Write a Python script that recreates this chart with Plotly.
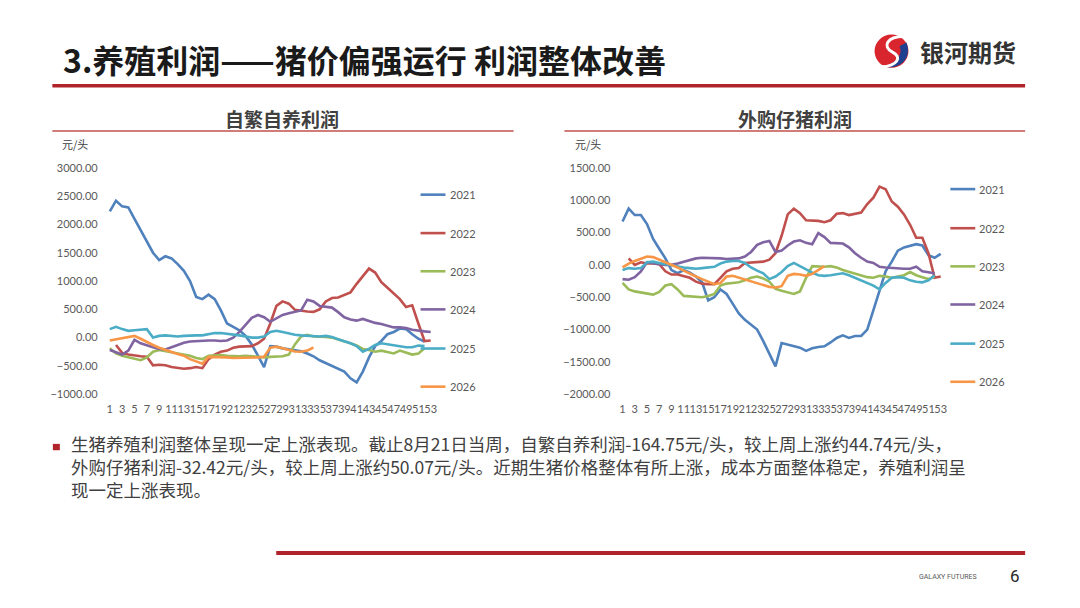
import plotly.graph_objects as go

# the page body keeps its 8px margin, so the figure is drawn 16px smaller
# and every position below is given in window pixels
OFF = 8
W, H = 1080 - 2 * OFF, 608 - 2 * OFF
CJK = "Noto Sans CJK SC, Noto Sans, sans-serif"
NUM = "Lato, Noto Sans, sans-serif"

weeks = list(range(1, 54))
years = ["2021", "2022", "2023", "2024", "2025", "2026"]
colors = ["#4F81BD", "#C0504D", "#9BBB59", "#8064A2", "#4BACC6", "#F79646"]

# 自繁自养利润 (元/头), by week
self_2021 = [2230, 2420, 2320, 2300, 2100, 1900, 1700, 1500, 1370, 1437,
             1400, 1300, 1180, 1000, 720, 680, 760, 680, 480, 250,
             190, 130, 30, -120, -320, -520, -150, -160, -190, -210,
             -220, -240, -280, -330, -400, -450, -500, -550, -600, -720,
             -790, -600, -350, -150, -60, 60, 100, 160, 150, 60,
             -20, -70]
self_2022 = [None, -130, -270, -300, -320, -330, -340, -490, -480, -490,
             -520, -540, -550, -540, -520, -540, -380, -300, -250, -230,
             -180, -160, -160, -150, -100, -20, 250, 560, 640, 600,
             490, 470, 460, 455, 500, 640, 700, 710, 760, 800,
             950, 1080, 1220, 1150, 980, 880, 780, 680, 540, 570,
             250, -60, -50]
self_2023 = [-190, -280, -320, -350, -380, -400, -350, -250, -220, -240,
             -260, -280, -300, -320, -360, -380, -320, -310, -310, -320,
             -330, -330, -320, -330, -340, -350, -340, -340, -330, -300,
             -120, 20, 50, 20, 20, 10, 0, -30, -60, -100,
             -140, -200, -220, -250, -230, -250, -280, -230, -270, -300,
             -280, -190]
self_2024 = [-220, -260, -300, -230, -40, -100, -140, -170, -200, -210,
             -170, -130, -90, -70, -60, -50, -50, -50, -60, -50,
             0, 100, 230, 350, 400, 360, 280, 340, 400, 430,
             450, 480, 670, 640, 560, 540, 530, 450, 360, 320,
             300, 330, 290, 260, 240, 210, 180, 180, 170, 140,
             120, 110, 100]
self_2025 = [150, 190, 150, 120, 130, 140, 150, 0, 30, 40,
             30, 20, 30, 40, 40, 40, 60, 80, 80, 70,
             60, 40, 20, 0, 0, 20, 100, 120, 100, 70,
             50, 40, 30, 20, 20, 30, 10, -30, -60, -100,
             -150, -250, -200, -130, -100, -120, -140, -160, -170, -170,
             -140, -150]
self_2026 = [-50, -30, 0, 20, 30, -20, -80, -130, -180, -220,
             -260, -290, -320, -380, -420, -460, -340, -340, -340, -350,
             -360, -360, -350, -350, -350, -340, -180, -160, -190, -220,
             -245, -250, -230, -175]

# 外购仔猪利润 (元/头), by week
buy_2021 = [670, 870, 770, 770, 630, 400, 250, 100, -80, -130,
            -80, -120, -180, -270, -550, -500, -380, -450, -600, -750,
            -850, -930, -1000, -1180, -1380, -1570, -1210, -1230, -1260, -1280,
            -1330, -1290, -1270, -1260, -1200, -1130, -1090, -1130, -1100, -1100,
            -1000, -700, -400, -100, 50, 220, 270, 300, 320, 300,
            150, 110, 170]
buy_2022 = [None, 100, 0, 40, 20, 20, 10, -100, -150, -150,
            -170, -200, -260, -290, -300, -300, -200, -100, -60, -50,
            30, 40, 50, 50, 80, 180, 450, 780, 870, 800,
            690, 690, 680, 660, 690, 790, 800, 770, 790, 810,
            940, 1040, 1210, 1170, 980, 900, 780, 620, 420, 420,
            180, -200, -180]
buy_2023 = [-280, -380, -410, -430, -440, -460, -420, -320, -300, -380,
            -480, -490, -500, -500, -480, -450, -320, -290, -280, -270,
            -240, -200, -180, -210, -260, -370, -400, -430, -450, -410,
            -200, -20, -30, -30, -20, -40, -80, -110, -130, -160,
            -190, -200, -170, -180, -200, -180, -160, -110, -160, -190,
            -220, -180]
buy_2024 = [-220, -230, -190, -100, 40, 20, 10, 0, 0, 20,
            50, 80, 100, 110, 110, 110, 100, 90, 90, 100,
            130, 200, 310, 350, 370, 200, 220, 300, 360, 380,
            340, 320, 490, 430, 340, 340, 330, 270, 180, 110,
            50, 30, -30, -40, -50, -60, -60, -60, -30, -100,
            -110, -130]
buy_2025 = [-80, -50, -60, -50, 40, 50, 30, 10, -10, -30,
            -40, -50, -60, -50, -40, -30, 20, 50, 60, 60,
            30, -40, -90, -130, -220, -180, -110, -20, 30, -20,
            -80, -120, -160, -170, -160, -150, -130, -160, -200, -240,
            -280, -320, -380, -280, -200, -190, -200, -240, -260, -270,
            -240, -160]
buy_2026 = [-40, 20, 60, 100, 130, 120, 80, 40, 10, -40,
            -90, -140, -180, -220, -260, -300, -280, -180, -170, -200,
            -230, -260, -290, -320, -340, -350, -330, -170, -140, -150,
            -170, -140, -80, -20]

self_series = [self_2021, self_2022, self_2023, self_2024, self_2025, self_2026]
buy_series = [buy_2021, buy_2022, buy_2023, buy_2024, buy_2025, buy_2026]

bullet_lines = [
    "生猪养殖利润整体呈现一定上涨表现。截止8月21日当周，自繁自养利润-164.75元/头，较上周上涨约44.74元/头，",
    "外购仔猪利润-32.42元/头，较上周上涨约50.07元/头。近期生猪价格整体有所上涨，成本方面整体稳定，养殖利润呈",
    "现一定上涨表现。",
]


def px(x):
    return (x - OFF) / W


def py(y):
    return 1 - (y - OFF) / H


def pt(x, y):
    return f"{px(x):.5f},{py(y):.5f}"


fig = go.Figure()

for ix, year in enumerate(years):
    fig.add_trace(go.Scatter(x=weeks[:len(self_series[ix])], y=self_series[ix],
                             mode="lines", name=year, showlegend=False,
                             line=dict(color=colors[ix], width=2.6),
                             xaxis="x", yaxis="y"))
    fig.add_trace(go.Scatter(x=weeks[:len(buy_series[ix])], y=buy_series[ix],
                             mode="lines", name=year, showlegend=False,
                             line=dict(color=colors[ix], width=2.6),
                             xaxis="x2", yaxis="y2"))

ydom = [py(395.7), py(164.3)]
axis_font = dict(family=NUM, size=11, color="#595959")
xcommon = dict(range=[0.5, 53.5], tickmode="array", tickvals=weeks[::2],
               showgrid=False, zeroline=False, showline=False, ticks="",
               tickfont=axis_font, tickangle=0, ticklabelstandoff=7)
ycommon = dict(dtick=500, tickformat=".2f", showgrid=False, zeroline=False,
               showline=False, ticks="", tickfont=axis_font,
               ticklabelstandoff=8)

fig.update_layout(
    width=W, height=H,
    margin=dict(l=0, r=0, t=0, b=0),
    paper_bgcolor="white", plot_bgcolor="white",
    xaxis=dict(domain=[px(107), px(435)], anchor="y", **xcommon),
    yaxis=dict(domain=ydom, range=[-1000, 3000], anchor="x", **ycommon),
    xaxis2=dict(domain=[px(621.2), px(946.4)], anchor="y2", **xcommon),
    yaxis2=dict(domain=ydom, range=[-2000, 1500], anchor="x2", **ycommon),
)

shapes = []
annotations = []

# header
annotations.append(dict(x=px(61), y=py(52.5), xref="paper", yref="paper",
                        xanchor="left", yanchor="middle", showarrow=False,
                        text="<b>3.养殖利润——猪价偏强运行 利润整体改善</b>",
                        font=dict(family=CJK, size=32, color="#1a1a1a")))
shapes.append(dict(type="line", xref="paper", yref="paper",
                   x0=px(52.5), x1=px(1028), y0=py(80.3), y1=py(80.3),
                   line=dict(color="#B0232A", width=3.5)))

# logo
shapes.append(dict(type="circle", xref="paper", yref="paper",
                   x0=px(877), x1=px(911), y0=py(62), y1=py(28),
                   fillcolor="#D9262E", line=dict(width=0)))
shapes.append(dict(type="path", xref="paper", yref="paper",
                   path=f"M{pt(909, 36)} C{pt(915, 52)} {pt(903, 64)} {pt(886, 61)} "
                        f"C{pt(899, 57)} {pt(906, 48)} {pt(902, 40)} Z",
                   fillcolor="#1F3F8F", line=dict(width=0)))
shapes.append(dict(type="path", xref="paper", yref="paper",
                   path=f"M{pt(906, 30)} C{pt(890, 30)} {pt(884, 40)} {pt(895, 46)} "
                        f"C{pt(905, 51)} {pt(900, 60)} {pt(884, 61)}",
                   line=dict(color="white", width=3)))
annotations.append(dict(x=px(921), y=py(45), xref="paper", yref="paper",
                        xanchor="left", yanchor="middle", showarrow=False,
                        text="<b>银河期货</b>",
                        font=dict(family=CJK, size=24, color="#333333")))

# chart titles
for title, cx, x0, x1 in [("自繁自养利润", 283, 52.5, 515), ("外购仔猪利润", 797, 566, 1028)]:
    annotations.append(dict(x=px(cx), y=py(114), xref="paper", yref="paper",
                            xanchor="center", yanchor="middle", showarrow=False,
                            text=f"<b>{title}</b>",
                            font=dict(family=CJK, size=19, color="#404040")))
    shapes.append(dict(type="line", xref="paper", yref="paper",
                       x0=px(x0), x1=px(x1), y0=py(126.7), y1=py(126.7),
                       line=dict(color="#C0504D", width=1.5)))

# unit labels
for ux in [60, 575]:
    annotations.append(dict(x=px(ux), y=py(140), xref="paper", yref="paper",
                            xanchor="left", yanchor="middle", showarrow=False,
                            text="元/头",
                            font=dict(family=CJK, size=11, color="#404040")))

# legends drawn by hand, spaced like the excel ones
legend_pos = [(421.7, 449, [191.7, 231, 270, 309, 349, 388]),
              (953, 980, [186, 226, 265, 304, 344, 383])]
for lx, tx, ys in legend_pos:
    for ix, year in enumerate(years):
        shapes.append(dict(type="line", xref="paper", yref="paper",
                           x0=px(lx), x1=px(lx + 25), y0=py(ys[ix]), y1=py(ys[ix]),
                           line=dict(color=colors[ix], width=2.6)))
        annotations.append(dict(x=px(tx), y=py(ys[ix]), xref="paper", yref="paper",
                                xanchor="left", yanchor="middle", showarrow=False,
                                text=year,
                                font=dict(family=NUM, size=11, color="#595959")))

# commentary, one block so the lines do not collide
shapes.append(dict(type="rect", xref="paper", yref="paper",
                   x0=px(53), x1=px(60), y0=py(453), y1=py(446.5),
                   fillcolor="#B0232A", line=dict(width=0)))
annotations.append(dict(x=px(69), y=py(470), xref="paper", yref="paper",
                        xanchor="left", yanchor="middle", align="left",
                        showarrow=False, text="<br>".join(bullet_lines),
                        font=dict(family=CJK, size=17.5, color="#404040")))

# footer
shapes.append(dict(type="line", xref="paper", yref="paper",
                   x0=px(277), x1=px(1028), y0=py(558), y1=py(558),
                   line=dict(color="#B0232A", width=4)))
annotations.append(dict(x=px(982), y=py(583), xref="paper", yref="paper",
                        xanchor="right", yanchor="middle", showarrow=False,
                        text="GALAXY FUTURES",
                        font=dict(family="Roboto, sans-serif", size=7, color="#595959")))
annotations.append(dict(x=px(1025), y=py(582), xref="paper", yref="paper",
                        xanchor="right", yanchor="middle", showarrow=False,
                        text="6",
                        font=dict(family="Roboto, sans-serif", size=17, color="#262626")))

fig.update_layout(shapes=shapes, annotations=annotations)

fig.write_html("out.html")
